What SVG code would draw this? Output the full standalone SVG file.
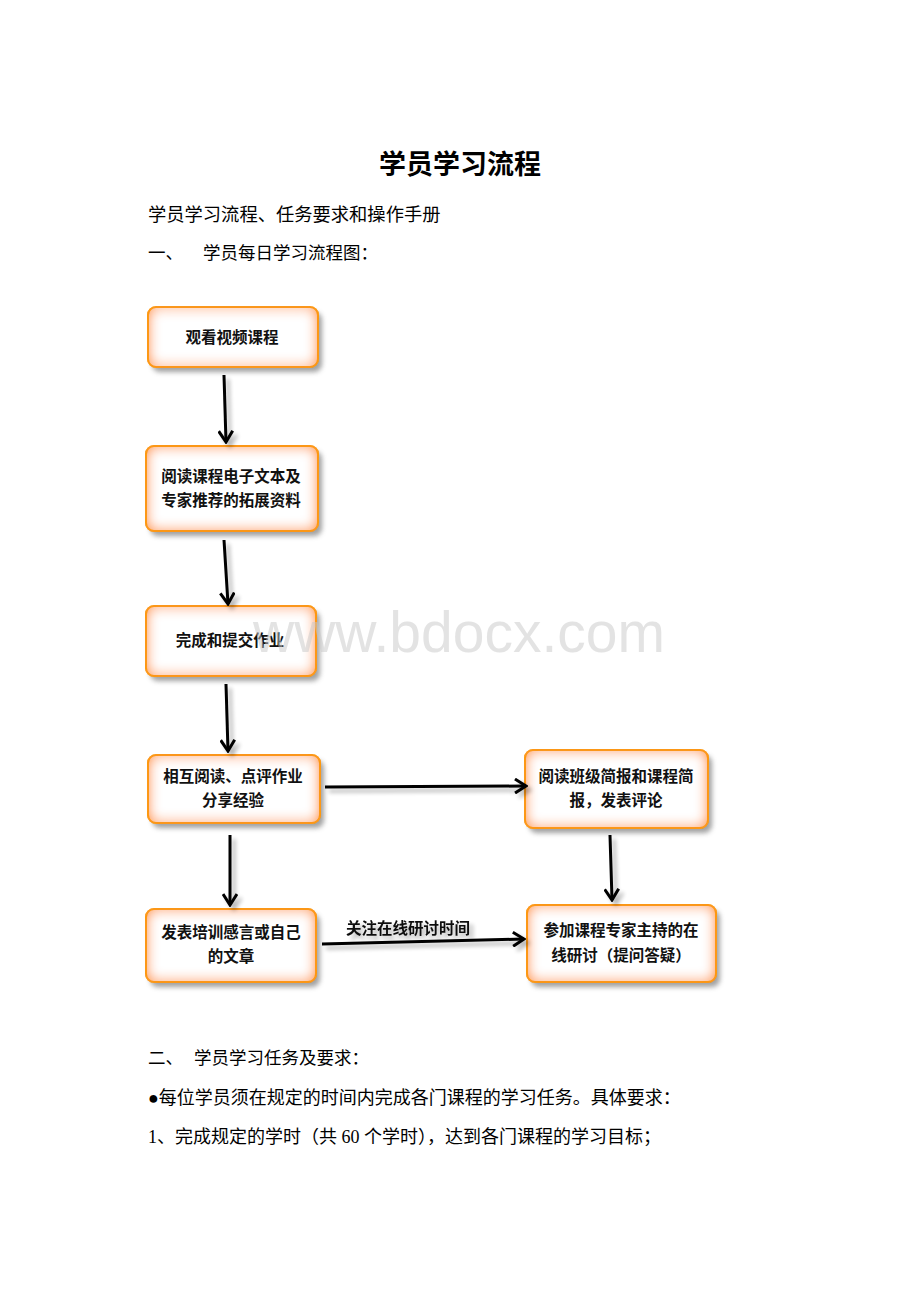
<svg xmlns="http://www.w3.org/2000/svg" width="920" height="1302" viewBox="0 0 920 1302">
<style>
.body{font-family:"Liberation Serif","Noto Sans CJK SC",serif;font-size:18px;fill:#000}
.node-text{font-family:"Noto Sans CJK SC",sans-serif;font-size:15.5px;font-weight:bold;fill:#111;text-anchor:middle}
.box{fill:#ffffff;stroke:#f7941d;stroke-width:2}
.shadow{fill:#555;opacity:0.55}
.conn{stroke:#000;stroke-width:3;fill:none;marker-end:url(#arr)}
</style>
<defs>
<marker id="arr" markerWidth="14" markerHeight="16" refX="12" refY="8" orient="auto" markerUnits="userSpaceOnUse">
<path d="M1,1 L12,8 L1,15" fill="none" stroke="#000" stroke-width="3"/>
</marker>
<filter id="inner" x="-10%" y="-10%" width="120%" height="120%">
<feFlood flood-color="#ff9a1f" result="f"/>
<feComposite in="f" in2="SourceAlpha" operator="out" result="o"/>
<feGaussianBlur in="o" stdDeviation="7" result="b"/>
<feComposite in="b" in2="SourceAlpha" operator="in" result="i"/>
<feMerge><feMergeNode in="SourceGraphic"/><feMergeNode in="i"/><feMergeNode in="i"/></feMerge>
</filter>
<filter id="blur" x="-20%" y="-20%" width="140%" height="140%">
<feGaussianBlur stdDeviation="2.5"/>
</filter>
<filter id="ashadow" x="-20%" y="-20%" width="140%" height="140%">
<feGaussianBlur in="SourceAlpha" stdDeviation="2"/>
<feOffset dx="4" dy="4" result="s"/>
<feComponentTransfer in="s" result="s2"><feFuncA type="linear" slope="0.3"/></feComponentTransfer>
<feMerge><feMergeNode in="s2"/><feMergeNode in="SourceGraphic"/></feMerge>
</filter>
</defs>
<rect width="920" height="1302" fill="#fff"/>

<text x="460" y="174" text-anchor="middle" style="font-family:'Noto Sans CJK SC',sans-serif;font-size:27px;font-weight:bold">学员学习流程</text>
<text class="body" x="148" y="221" style="font-size:18.3px">学员学习流程、任务要求和操作手册</text>
<text class="body" x="148" y="259" style="font-size:17.5px">一、</text>
<text class="body" x="203" y="259" style="font-size:17.5px">学员每日学习流程图：</text>

<g id="n1">
<rect class="shadow" x="152" y="312" width="170" height="60" rx="8" filter="url(#blur)"/>
<rect class="box" x="148" y="307" width="170" height="60" rx="8" filter="url(#inner)"/>
<text class="node-text" x="232" y="343">观看视频课程</text>
</g>
<g id="n2">
<rect class="shadow" x="150" y="451" width="172" height="85" rx="8" filter="url(#blur)"/>
<rect class="box" x="146" y="446" width="172" height="85" rx="8" filter="url(#inner)"/>
<text class="node-text" x="231" y="482">阅读课程电子文本及</text>
<text class="node-text" x="231" y="506">专家推荐的拓展资料</text>
</g>
<g id="n3">
<rect class="shadow" x="150" y="611" width="170" height="70" rx="8" filter="url(#blur)"/>
<rect class="box" x="146" y="606" width="170" height="70" rx="8" filter="url(#inner)"/>
<text class="node-text" x="230" y="646">完成和提交作业</text>
</g>
<g id="n4">
<rect class="shadow" x="152" y="760" width="172" height="68" rx="8" filter="url(#blur)"/>
<rect class="box" x="148" y="755" width="172" height="68" rx="8" filter="url(#inner)"/>
<text class="node-text" x="233" y="782">相互阅读、点评作业</text>
<text class="node-text" x="233" y="806">分享经验</text>
</g>
<g id="n5">
<rect class="shadow" x="529" y="755" width="183" height="78" rx="8" filter="url(#blur)"/>
<rect class="box" x="525" y="750" width="183" height="78" rx="8" filter="url(#inner)"/>
<text class="node-text" x="616" y="782">阅读班级简报和课程简</text>
<text class="node-text" x="616" y="806">报，发表评论</text>
</g>
<g id="n6">
<rect class="shadow" x="531" y="910" width="189" height="77" rx="8" filter="url(#blur)"/>
<rect class="box" x="527" y="905" width="189" height="77" rx="8" filter="url(#inner)"/>
<text class="node-text" x="621" y="936">参加课程专家主持的在</text>
<text class="node-text" x="621" y="961">线研讨（提问答疑）</text>
</g>
<g id="n7">
<rect class="shadow" x="150" y="914" width="170" height="73" rx="8" filter="url(#blur)"/>
<rect class="box" x="146" y="909" width="170" height="73" rx="8" filter="url(#inner)"/>
<text class="node-text" x="231" y="938">发表培训感言或自己</text>
<text class="node-text" x="231" y="962">的文章</text>
</g>

<g id="connectors" filter="url(#ashadow)">
<line class="conn" x1="224" y1="375" x2="226" y2="442"/>
<line class="conn" x1="224" y1="540" x2="228" y2="604"/>
<line class="conn" x1="226" y1="684" x2="228" y2="751"/>
<line class="conn" x1="325" y1="787" x2="526" y2="786"/>
<line class="conn" x1="610" y1="835" x2="612" y2="900"/>
<line class="conn" x1="230" y1="835" x2="230" y2="905"/>
<line class="conn" x1="322" y1="944" x2="524" y2="939"/>
<text x="346" y="934" style="font-family:'Noto Sans CJK SC',sans-serif;font-size:15.5px;font-weight:bold;fill:#111">关注在线研讨时间</text>
</g>

<text x="253" y="652" textLength="412" lengthAdjust="spacingAndGlyphs" style="font-family:'Liberation Sans',Arial,sans-serif;font-size:57px;fill:#c8c8c8;fill-opacity:0.5">www.bdocx.com</text>

<text class="body" x="148" y="1064" style="font-size:17.5px">二、</text>
<text class="body" x="194" y="1064" style="font-size:17.5px">学员学习任务及要求：</text>
<text class="body" x="148" y="1104">●每位学员须在规定的时间内完成各门课程的学习任务。具体要求：</text>
<text class="body" x="148" y="1143">1、完成规定的学时（共 60 个学时），达到各门课程的学习目标；</text>
</svg>
